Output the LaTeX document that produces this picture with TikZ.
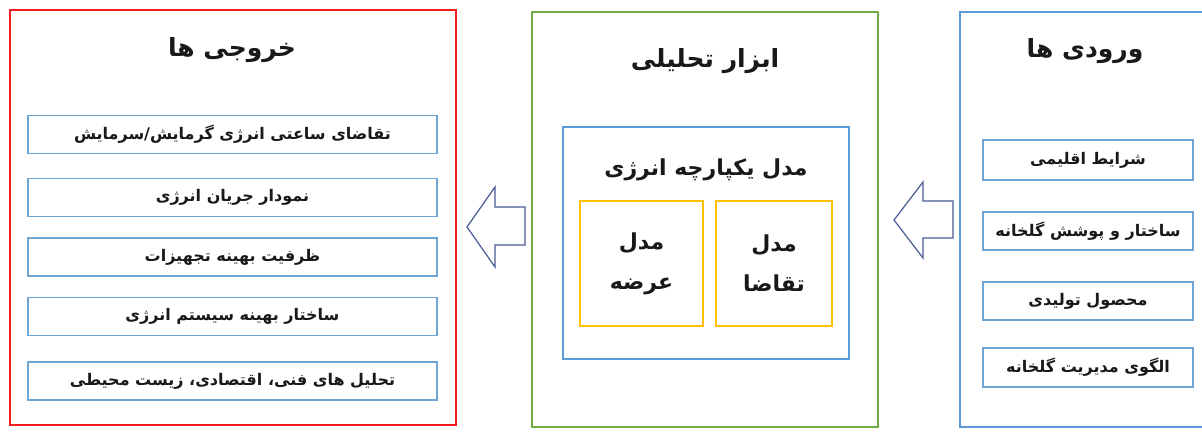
\documentclass[tikz,border=0pt]{standalone}
\usepackage{fontspec}
\newfontfamily\fa[Script=Arabic]{DejaVu Sans}
\TeXXeTstate=1
\newcommand\RL[1]{\beginR #1\endR}
\definecolor{cred}{HTML}{F01E1E}
\definecolor{cgreen}{HTML}{70AD47}
\definecolor{cblue}{HTML}{5B9BD5}
\definecolor{cyel}{HTML}{FFC000}
\definecolor{carrow}{HTML}{4A5A95}
\definecolor{cbox}{HTML}{6FA6D6}
\tikzset{
  panel/.style={draw, line width=2pt, inner sep=0pt},
  item/.style={draw=cbox, line width=1.2pt, fill=white, inner sep=0pt, font=\fa\bfseries\fontsize{16}{18}\selectfont, text=black!90},
  ttl/.style={font=\fa\bfseries\fontsize{25}{28}\selectfont, text=black!90},
  ymod/.style={draw=cyel, line width=2.4pt, inner sep=0pt, align=center, font=\fa\bfseries\fontsize{22}{40}\selectfont, text=black!90},
  blockarrow/.style={draw=carrow, line width=1.2pt, fill=white, line join=miter}
}
\begin{document}
\begin{tikzpicture}[x=1pt,y=-1pt]
\useasboundingbox (0,0) rectangle (1202,443);
\clip (0,0) rectangle (1202,443);
\fill[white] (0,0) rectangle (1202,443);
% outputs panel
\node[panel, draw=cred, minimum width=446pt, minimum height=415pt] (outp) at (233,217.5) {};
\node[ttl] (outt) at (232,50) {\RL{خروجی ها}};
\node[item, minimum width=409pt, minimum height=38pt] (o1) at (232.5,134.5) {\RL{تقاضای ساعتی انرژی گرمایش/سرمایش}};
\node[item, minimum width=409pt, minimum height=38pt] (o2) at (232.5,197.5) {\RL{نمودار جریان انرژی}};
\node[item, minimum width=409pt, minimum height=38pt] (o3) at (232.5,257) {\RL{ظرفیت بهینه تجهیزات}};
\node[item, minimum width=409pt, minimum height=38pt] (o4) at (232.5,316.5) {\RL{ساختار بهینه سیستم انرژی}};
\node[item, minimum width=409pt, minimum height=38pt] (o5) at (232.5,381) {\RL{تحلیل های فنی، اقتصادی، زیست محیطی}};
% tool panel
\node[panel, draw=cgreen, line width=2.4pt, minimum width=346pt, minimum height=415pt] (tool) at (705,219.5) {};
\node[ttl] (toolt) at (705,61) {\RL{ابزار تحلیلی}};
\node[panel, draw=cblue, minimum width=286pt, minimum height=232pt] (model) at (706,243) {};
\node[font=\fa\bfseries\fontsize{22}{26}\selectfont, text=black!90] (modelt) at (706,170) {\RL{مدل یکپارچه انرژی}};
\node[ymod, minimum width=123pt, minimum height=125pt] (supply) at (641.5,263.5) {\RL{مدل}\\\RL{عرضه}};
\node[ymod, minimum width=116pt, minimum height=125pt] (demand) at (774,263.5) {\RL{مدل}\\\RL{تقاضا}};
% inputs panel
\node[panel, draw=cblue, minimum width=280pt, minimum height=415pt] (inp) at (1100,219.5) {};
\node[ttl] (inpt) at (1085,51) {\RL{ورودی ها}};
\node[item, minimum width=210pt, minimum height=40pt] (i1) at (1088,160) {\RL{شرایط اقلیمی}};
\node[item, minimum width=210pt, minimum height=38pt] (i2) at (1088,231) {\RL{ساختار و پوشش گلخانه}};
\node[item, minimum width=210pt, minimum height=38pt] (i3) at (1088,301) {\RL{محصول تولیدی}};
\node[item, minimum width=210pt, minimum height=39pt] (i4) at (1088,367.5) {\RL{الگوی مدیریت گلخانه}};
% block arrows
\draw[blockarrow] (467,227) -- (495,187) -- (495,207) -- (525,207) -- (525,245) -- (495,245) -- (495,267) -- cycle;
\draw[blockarrow] (894,220) -- (923,182) -- (923,201) -- (953,201) -- (953,238) -- (923,238) -- (923,258) -- cycle;
\end{tikzpicture}
\end{document}
